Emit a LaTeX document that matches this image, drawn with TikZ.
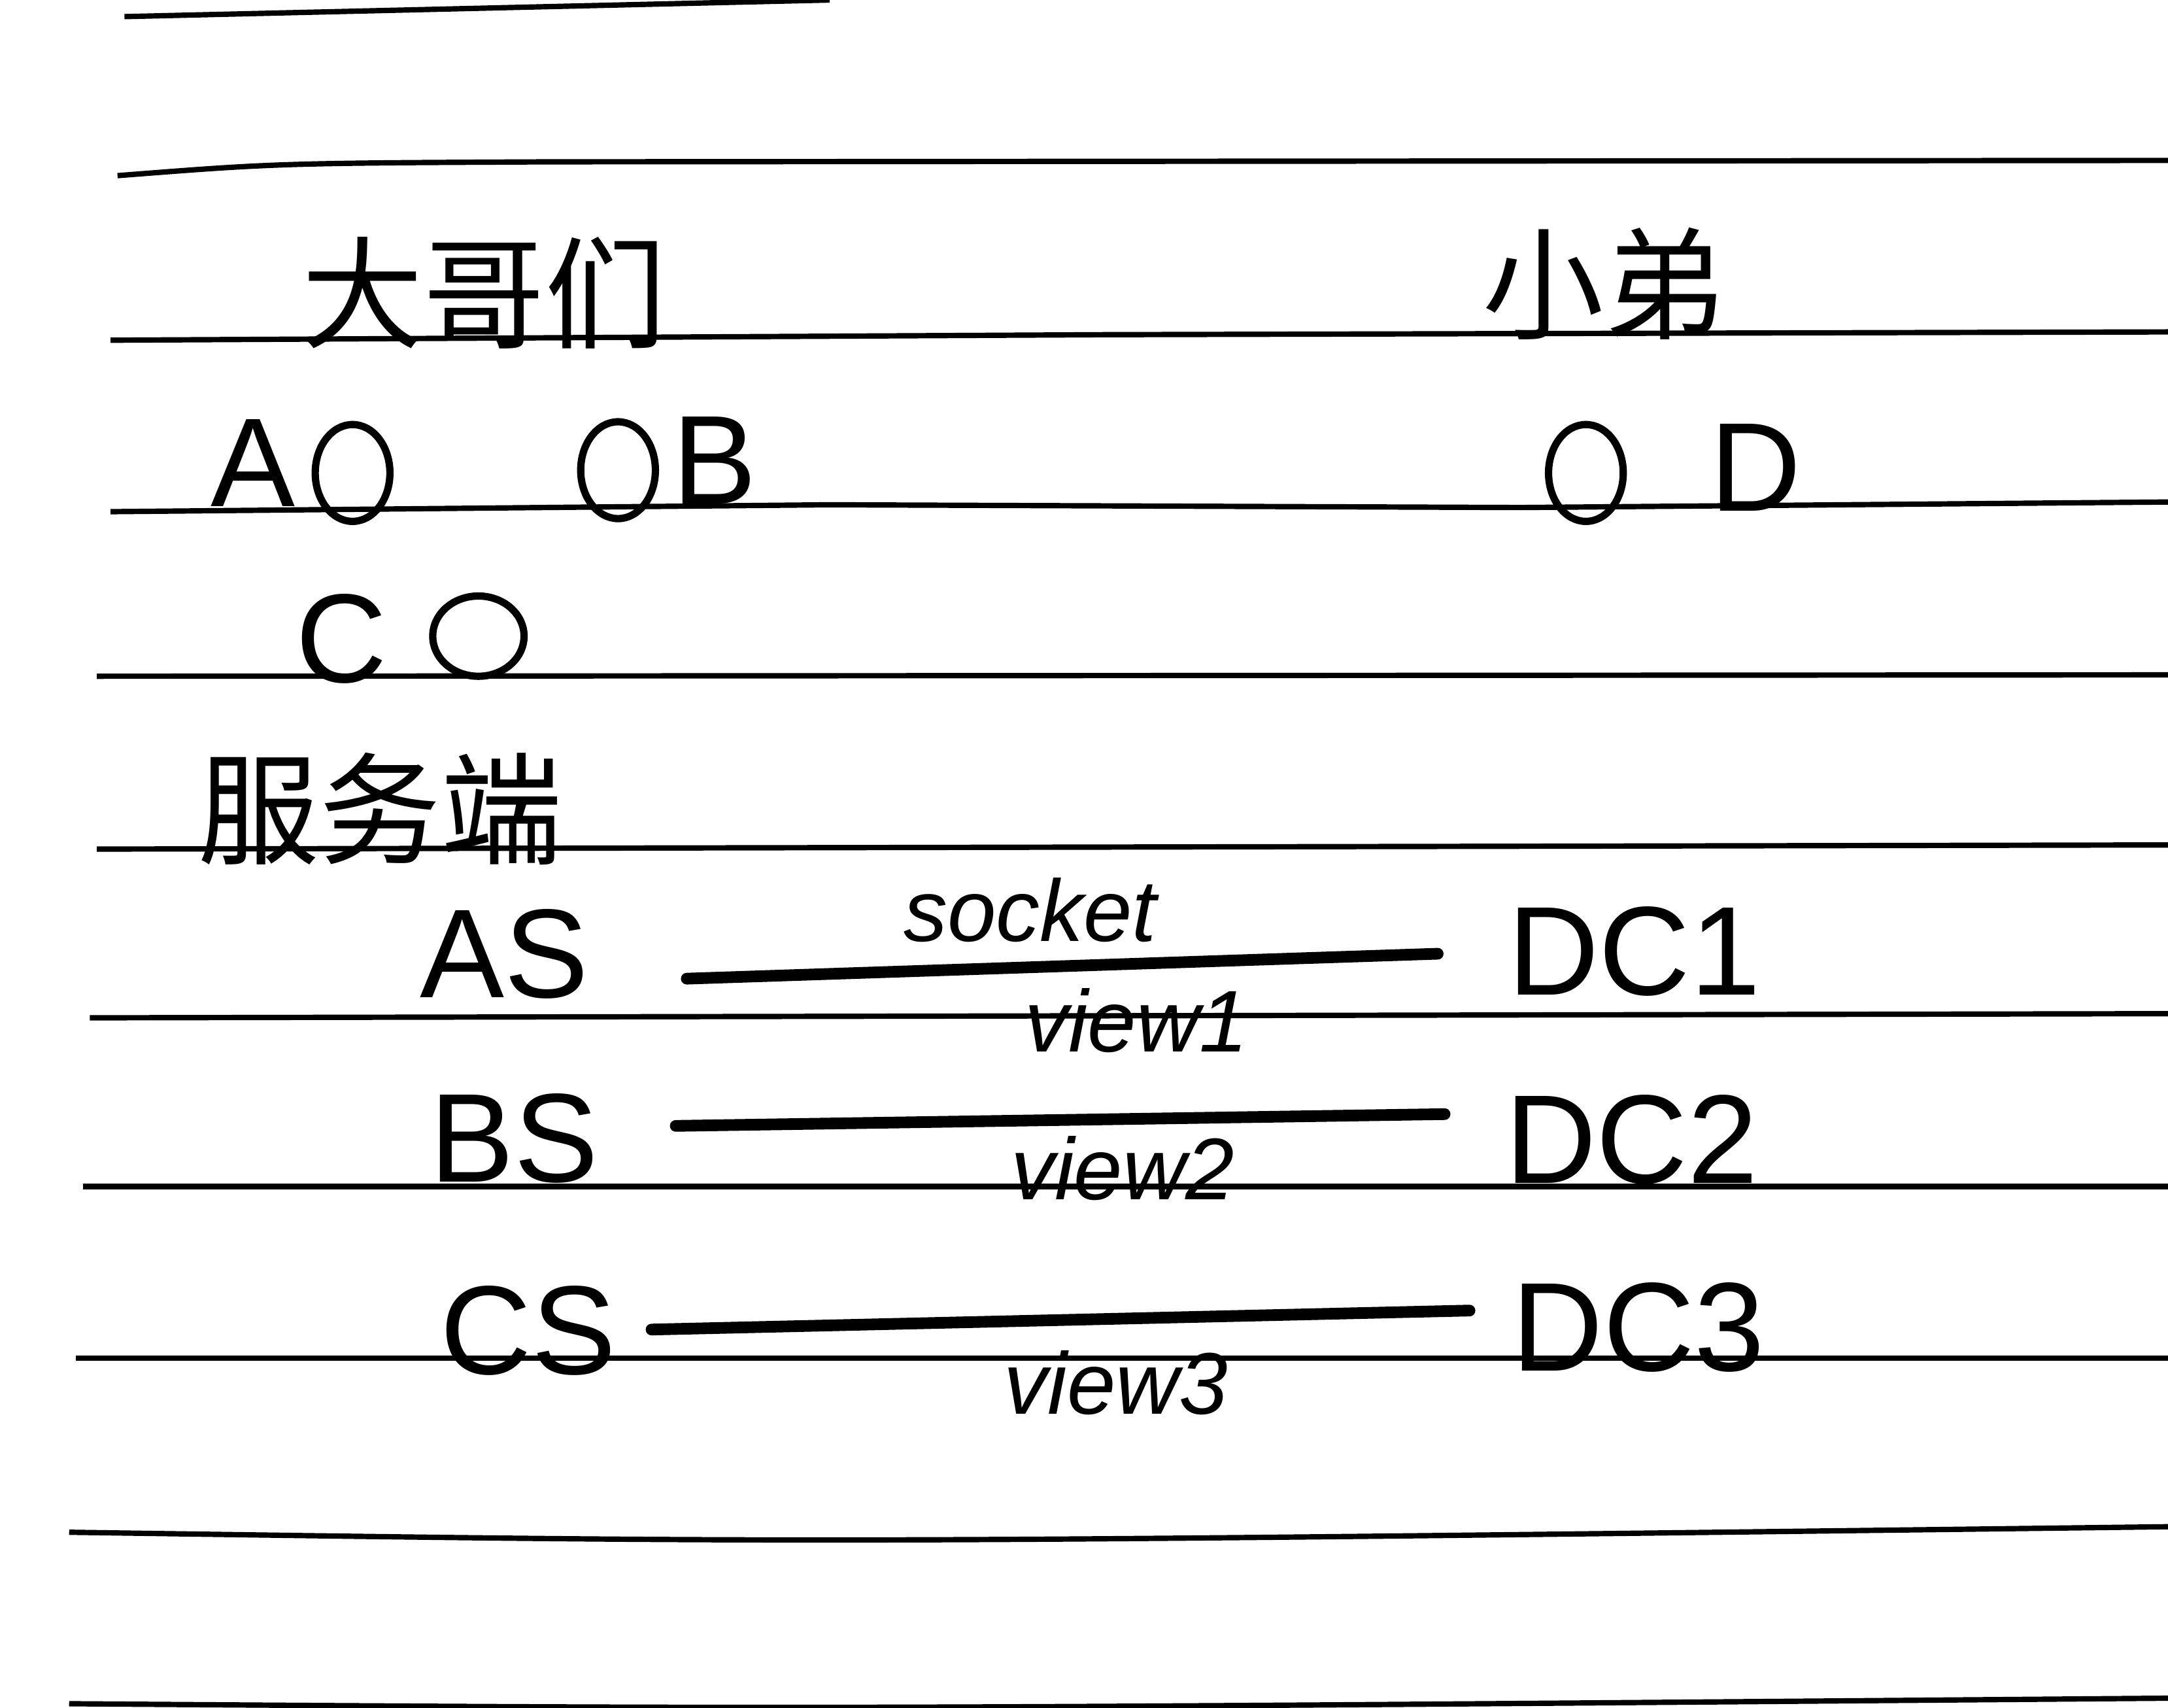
\documentclass[tikz,border=0pt]{standalone}
\usepackage{fontspec}
\setmainfont{Liberation Sans}
\newfontfamily\cjk{Noto Sans CJK SC}
\usetikzlibrary{shapes.geometric}
\pgfdeclarelayer{bg}
\pgfsetlayers{bg,main}
\tikzset{
    rule/.style={line width=1.1pt},
    hand/.style={inner sep=0mm, font=\fontsize{26}{26}\selectfont},
    head/.style={inner sep=0mm, font=\cjk\fontsize{25}{25}\selectfont},
    ring/.style={ellipse, draw, line width=1.5pt, inner sep=0mm, minimum width=5.4mm, minimum height=7mm},
    tag/.style={inner sep=0mm, font=\itshape\fontsize{18}{18}\selectfont},
    link/.style={line width=2.4pt, line cap=round}
}

\begin{document}
\begin{tikzpicture}[x=0.01cm, y=-0.01cm]
  \useasboundingbox (0,0) rectangle (1568,1235);

  \node[head] (da) at (350,212) {大哥们};
  \node[head] (xd) at (1160,205) {小弟};

  \node[hand] (a) at (183,335) {A};
  \node[ring] (ra) at (255,342) {};
  \node[ring] (rb) at (447,340) {};
  \node[hand] (b) at (517,333) {B};
  \node[ring] (rd) at (1147,342) {};
  \node[hand] (d) at (1270,338) {D};

  \node[hand] (c) at (247,462) {C};
  \node[ring, minimum width=6.6mm, minimum height=5.8mm] (rc) at (346,460) {};

  \node[head] (fw) at (275,585) {服务端};

  \node[hand] (as) at (365,690) {AS};
  \node[hand] (bs) at (372,823) {BS};
  \node[hand] (cs) at (382,962) {CS};

  \node[hand] (dc1) at (1182,688) {DC1};
  \node[hand] (dc2) at (1180,824) {DC2};
  \node[hand] (dc3) at (1185,960) {DC3};

  \node[tag] (sock) at (745,658) {socket};
  \node[tag] (v1) at (822,738) {view1};
  \node[tag] (v2) at (812,845) {view2};
  \node[tag] (v3) at (807,1000) {view3};

  \draw[link] ([yshift=-2mm]as.east) edge[shorten <=7mm, shorten >=5mm] (dc1.west);
  \draw[link] ([yshift=0.8mm]bs.east) edge[shorten <=5.5mm, shorten >=4.3mm] ([yshift=1.9mm]dc2.west);
  \draw[link] (cs.east) edge[shorten <=2.5mm, shorten >=3mm] ([yshift=1.3mm]dc3.west);

  \begin{pgfonlayer}{bg}
	  \draw[rule] (90,12) -- (600,0);
	  \draw[rule] (85,127) .. controls (200,118) .. (400,117) -- (1568,116);
	  \draw[rule] (80,246) -- (800,242) -- (1568,240);
	  \draw[rule] (80,370) -- (600,365) -- (1100,367) -- (1568,363);
	  \draw[rule] (70,489) -- (1568,488);
	  \draw[rule] (70,614) -- (1568,611);
	  \draw[rule] (65,736) -- (1568,733);
	  \draw[rule] (60,858) -- (1568,858);
	  \draw[rule] (55,982) -- (1568,982);
	  \draw[rule] (50,1108) .. controls (600,1116) .. (1568,1104);
	  \draw[rule] (50,1232) .. controls (600,1236) .. (1568,1228);
  \end{pgfonlayer}
\end{tikzpicture}
\end{document}
